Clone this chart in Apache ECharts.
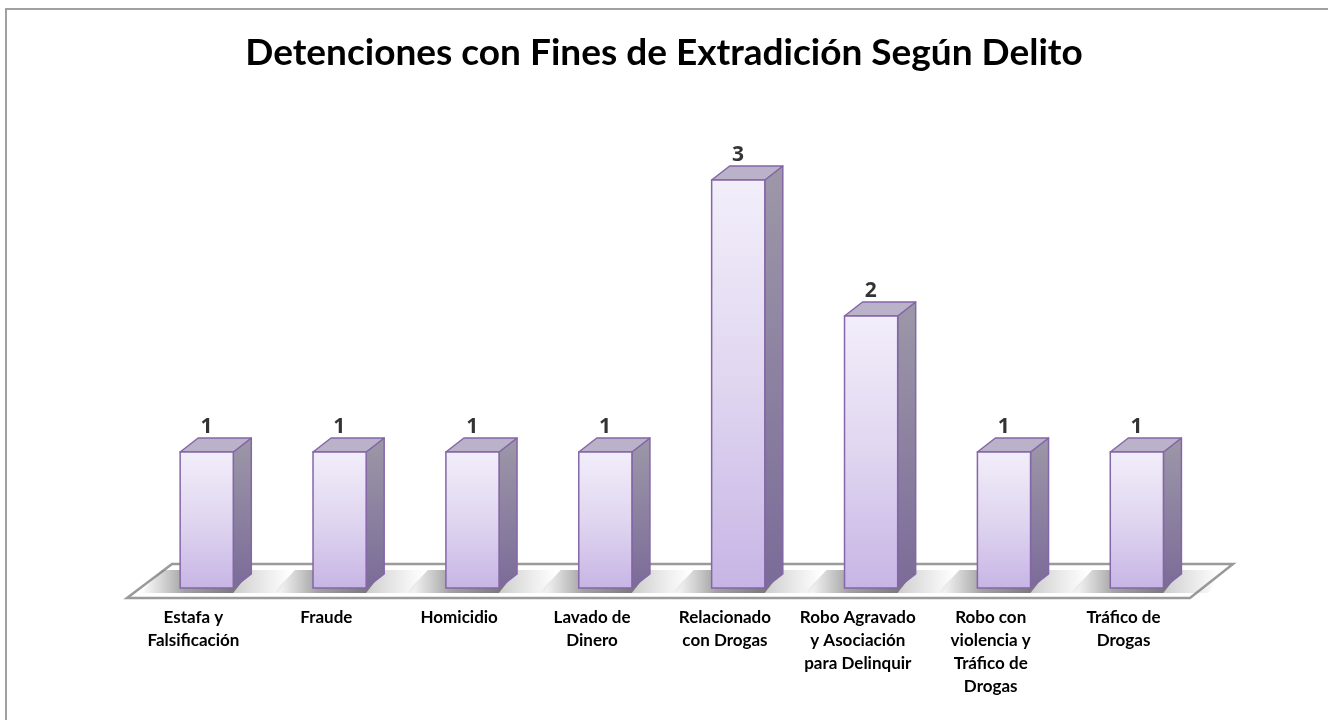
<!DOCTYPE html>
<html>
<head>
<meta charset="utf-8">
<title>Detenciones con Fines de Extradición Según Delito</title>
<script src="https://cdn.jsdelivr.net/npm/echarts@6/dist/echarts.min.js"></script>
<style>
  html, body { margin: 0; padding: 0; background: #fff; }
  #chart { width: 1328px; height: 720px; }
</style>
</head>
<body>
<div id="chart"></div>
<script>
var chartTitle = 'Detenciones con Fines de Extradición Según Delito';

var categories = [
  'Estafa y\nFalsificación',
  'Fraude',
  'Homicidio',
  'Lavado de\nDinero',
  'Relacionado\ncon Drogas',
  'Robo Agravado\ny Asociación\npara Delinquir',
  'Robo con\nviolencia y\nTráfico de\nDrogas',
  'Tráfico de\nDrogas'
];

var detenciones = [1, 1, 1, 1, 3, 2, 1, 1];

var FONT = 'Lato';
var DX = 18, DY = 14;   // depth of the 3D boxes

function renderFloor(params, api) {
  var cs = params.coordSys;
  var yb = cs.y + cs.height;
  var pts = [
    [cs.x, yb + 10],
    [cs.x + cs.width, yb + 10],
    [cs.x + cs.width + 43, yb - 24],
    [cs.x + 45, yb - 24]
  ];
  return {
    type: 'polygon',
    shape: { points: pts },
    style: { fill: '#ffffff', stroke: '#9a9a9a', lineWidth: 2.5 }
  };
}

function renderBar(params, api) {
  var i = api.value(0);
  var v = api.value(1);
  var base = api.coord([i, 0]);
  var top = api.coord([i, v]);
  var band = api.size([1, 0])[0];
  var w = band * 0.4;
  var x0 = base[0] - band * 0.1;
  var x1 = x0 + w;
  var yb = base[1];
  var yt = top[1];
  var edge = '#8566a8';

  var shadowL = {
    type: 'polygon',
    shape: { points: [[x0 - 40, yb + 5], [x1, yb + 5], [x1 + DX, yb - 18], [x0 - 18, yb - 18]] },
    style: {
      fill: new echarts.graphic.LinearGradient(0, 0, 1, 0, [
        { offset: 0, color: 'rgba(120,120,120,0)' },
        { offset: 0.4, color: 'rgba(100,100,100,0.6)' },
        { offset: 1, color: 'rgba(80,80,80,0.85)' }
      ])
    }
  };
  var shadowR = {
    type: 'polygon',
    shape: { points: [[x1, yb + 5], [x1 + 45, yb + 5], [x1 + DX + 40, yb - 18], [x1 + DX, yb - 18]] },
    style: {
      fill: new echarts.graphic.LinearGradient(0, 0, 1, 0, [
        { offset: 0, color: 'rgba(110,110,110,0.35)' },
        { offset: 1, color: 'rgba(140,140,140,0)' }
      ])
    }
  };
  var side = {
    type: 'polygon',
    shape: { points: [[x1, yt], [x1 + DX, yt - DY], [x1 + DX, yb - DY], [x1, yb]] },
    style: {
      fill: new echarts.graphic.LinearGradient(0, 0, 0, 1, [
        { offset: 0, color: '#9d98a8' },
        { offset: 1, color: '#7b6b98' }
      ]),
      stroke: edge, lineWidth: 1.5, lineJoin: 'round'
    }
  };
  var cap = {
    type: 'polygon',
    shape: { points: [[x0, yt], [x0 + DX, yt - DY], [x1 + DX, yt - DY], [x1, yt]] },
    style: { fill: '#bab2c8', stroke: edge, lineWidth: 1.5, lineJoin: 'round' }
  };
  var front = {
    type: 'rect',
    shape: { x: x0, y: yt, width: w, height: yb - yt },
    style: {
      fill: new echarts.graphic.LinearGradient(0, 0, 0, 1, [
        { offset: 0, color: '#f2eefa' },
        { offset: 0.5, color: '#e0d6f0' },
        { offset: 1, color: '#c7b5e5' }
      ]),
      stroke: edge, lineWidth: 1.5
    }
  };
  return { type: 'group', children: [shadowL, shadowR, side, cap, front] };
}

function init() {
  var chart = echarts.init(document.getElementById('chart'));
  var barData = detenciones.map(function (d, i) { return [i, d]; });

  var option = {
    backgroundColor: '#ffffff',
    animation: false,
    title: {
      text: chartTitle,
      left: 'center',
      top: 30,
      textStyle: { fontFamily: FONT, fontWeight: 'bold', fontSize: 37, color: '#000' }
    },
    graphic: [{
      type: 'rect',
      shape: { x: 6, y: 9, width: 1400, height: 800 },
      style: { fill: null, stroke: '#a0a0a0', lineWidth: 2 },
      silent: true
    }],
    grid: { left: 127, right: 138, top: 180, bottom: 132 },
    xAxis: {
      type: 'category',
      data: categories,
      axisLine: { show: false },
      axisTick: { show: false },
      axisLabel: {
        interval: 0,
        margin: 18,
        color: '#000',
        fontFamily: FONT,
        fontWeight: 'bold',
        fontSize: 17,
        lineHeight: 23
      }
    },
    yAxis: {
      type: 'value',
      min: 0,
      max: 3,
      show: false
    },
    series: [
      {
        type: 'custom',
        renderItem: renderFloor,
        data: [[0, 0]],
        silent: true,
        z: 1
      },
      {
        type: 'custom',
        renderItem: renderBar,
        data: barData,
        encode: { x: 0, y: 1 },
        z: 2
      },
      {
        type: 'scatter',
        data: barData,
        symbol: 'rect',
        symbolSize: 1,
        itemStyle: { color: 'rgba(0,0,0,0)' },
        silent: true,
        z: 3,
        label: {
          show: true,
          position: 'top',
          distance: DY,
          offset: [13, 0],
          color: '#000',
          fontFamily: '"Open Sans"',
          fontWeight: 'bold',
          fontSize: 21,
          formatter: function (p) { return p.value[1]; }
        }
      }
    ]
  };
  chart.setOption(option);
}
window.onload = init;
</script>
</body>
</html>
